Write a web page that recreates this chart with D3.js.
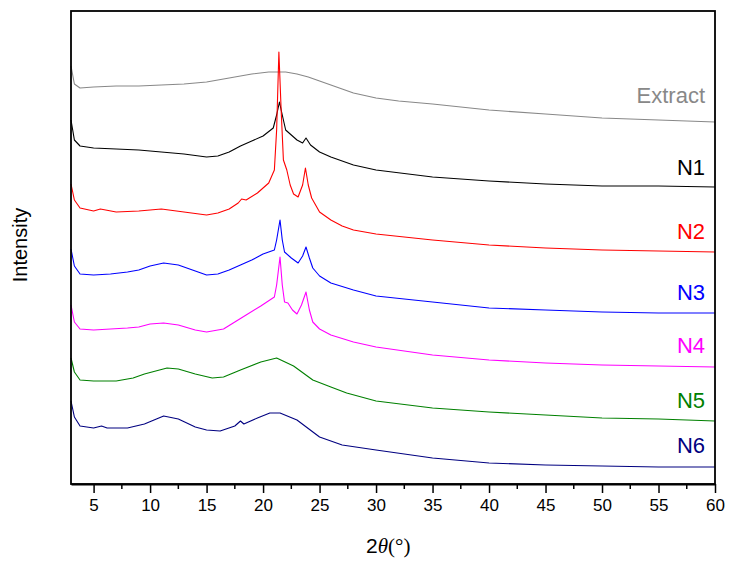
<!DOCTYPE html>
<html>
<head>
<meta charset="utf-8">
<script src="https://cdn.jsdelivr.net/npm/d3@7"></script>
<style>
  body { margin: 0; background: #fff; }
  svg text { font-family: Arial, "Liberation Sans", sans-serif; }
</style>
</head>
<body>
<svg id="xrd" width="732" height="571"></svg>
<script>
// data (2theta, stacked intensity in arbitrary units) -----------------
var names = ["Extract", "N1", "N2", "N3", "N4", "N5", "N6"];
var colors = ["#888888", "#000000", "#ff0000", "#0000ff", "#ff00ff", "#008000", "#000080"];
var labelY = [381, 309, 245, 184, 131, 76, 31]; // label heights, same units as intensity

var theta_extract = [3.0, 3.3, 3.8, 5, 7, 9, 11, 13, 15, 17, 19, 20.5, 22, 23, 24, 25, 26, 27, 28, 30, 32, 35, 40, 45, 50, 55, 60];
var int_extract = [418, 400, 396, 397, 398, 398, 399, 400, 402, 406, 410, 412, 412, 410, 407, 403, 399, 395, 391, 386, 383, 380, 374, 370, 366, 364, 362];

var theta_n1 = [3.0, 3.3, 3.8, 5, 7, 9, 11, 13, 15, 16, 17, 18, 19, 20, 20.9, 21.2, 21.45, 21.7, 22.0, 22.5, 23.0, 23.5, 23.8, 24.2, 25, 26, 28, 30, 35, 40, 45, 50, 55, 60];
var int_n1 = [364, 344, 338, 336, 335, 334, 332, 330, 327, 328, 332, 338, 343, 348, 356, 369, 382, 369, 354, 349, 344, 341, 346, 339, 332, 327, 319, 314, 307, 303, 300, 298, 298, 297];

var theta_n2 = [3.0, 3.3, 3.8, 5, 5.6, 7, 9, 11, 13, 15, 16, 17, 17.8, 18.1, 18.5, 19.5, 20.5, 21.0, 21.2, 21.4, 21.6, 21.8, 22.1, 22.4, 22.7, 23.1, 23.5, 23.75, 24.0, 24.3, 25, 26, 27, 28, 30, 35, 40, 45, 50, 55, 60];
var int_n2 = [300, 284, 276, 273, 275, 272, 273, 275, 272, 269, 271, 275, 281, 285, 284, 291, 301, 314, 354, 432, 374, 324, 314, 299, 290, 287, 299, 316, 299, 286, 272, 264, 258, 254, 250, 244, 239, 236, 234, 233, 232];

var theta_n3 = [3.0, 3.3, 3.8, 5, 6.5, 8, 9, 10, 11.2, 12.5, 14, 15, 16, 17, 18, 19, 20, 21.0, 21.2, 21.5, 21.7, 21.9, 22.5, 23.1, 23.5, 23.8, 24.1, 24.4, 25, 26, 28, 30, 35, 40, 45, 50, 55, 60];
var int_n3 = [235, 218, 210, 209, 210, 212, 214, 218, 221, 219, 213, 209, 210, 214, 219, 224, 230, 234, 244, 264, 244, 232, 226, 221, 228, 237, 226, 216, 208, 201, 194, 188, 182, 176, 174, 172, 171, 171];

var theta_n4 = [3.0, 3.3, 3.8, 5, 6.5, 8, 9, 10, 11.2, 12.5, 14, 15, 16.5, 17.5, 18.5, 19.8, 21.0, 21.2, 21.5, 21.7, 21.9, 22.2, 22.6, 23.0, 23.4, 23.8, 24.1, 24.4, 25, 26, 28, 30, 35, 40, 45, 50, 55, 60];
var int_n4 = [179, 162, 155, 154, 155, 156, 157, 160, 161, 159, 154, 152, 155, 162, 169, 178, 187, 199, 227, 199, 182, 181, 174, 170, 179, 192, 174, 162, 155, 149, 142, 137, 129, 124, 121, 119, 118, 117];

var theta_n5 = [3.0, 3.3, 3.8, 5, 7, 8.5, 9.5, 11.5, 12.5, 14, 15.5, 16.5, 18, 19.8, 21.2, 22.7, 24.4, 26, 27.4, 30, 35, 40, 45, 50, 55, 60];
var int_n5 = [126, 112, 104, 103, 103, 106, 110, 116, 115, 110, 106, 107, 114, 122, 126, 118, 104, 97, 91, 83, 76, 72, 69, 66, 65, 63];

var theta_n6 = [3.0, 3.3, 3.8, 5, 5.7, 6.2, 8, 9.5, 11.2, 12.5, 14, 15, 16.2, 17.5, 18.0, 18.3, 19.5, 20.6, 21.5, 23, 25, 27, 30, 35, 40, 45, 50, 55, 60];
var int_n6 = [83, 67, 58, 56, 58, 56, 56, 60, 68, 65, 57, 54, 53, 58, 63, 60, 66, 71, 71, 64, 47, 39, 34, 26, 21, 19, 18, 17, 17];

var thetas = [theta_extract, theta_n1, theta_n2, theta_n3, theta_n4, theta_n5, theta_n6];
var intensities = [int_extract, int_n1, int_n2, int_n3, int_n4, int_n5, int_n6];

var xTicks = [5, 10, 15, 20, 25, 30, 35, 40, 45, 50, 55, 60];
var xMinor = [7.5, 12.5, 17.5, 22.5, 27.5, 32.5, 37.5, 42.5, 47.5, 52.5, 57.5];

// graph ---------------------------------------------------------------
var svg = d3.select("#xrd");
const padding = { top: 11, right: 17, bottom: 87, left: 71 };
const width = 732, height = 571;

var x = d3.scaleLinear()
	.domain([3, 60])
	.range([padding.left, width - padding.right]);

var y = d3.scaleLinear()
	.domain([0, 473])
	.range([height - padding.bottom, padding.top]);

var line = d3.line()
	.x(d => x(d[0]))
	.y(d => y(d[1]));

// curves
var g = svg.append("g");
names.forEach(function (name, i) {
	var pts = thetas[i].map((t, j) => [t, intensities[i][j]]);
	g.append("path")
		.datum(pts)
		.attr("fill", "none")
		.attr("stroke", colors[i])
		.attr("stroke-width", 1.1)
		.attr("stroke-linejoin", "round")
		.attr("d", line);

	g.append("text")
		.attr("x", x(60) - 10)
		.attr("y", y(labelY[i]))
		.attr("text-anchor", "end")
		.attr("font-size", "22px")
		.attr("fill", colors[i])
		.text(name);
});

// frame
svg.append("rect")
	.attr("x", x(3))
	.attr("y", y(473))
	.attr("width", x(60) - x(3))
	.attr("height", y(0) - y(473))
	.attr("fill", "none")
	.attr("stroke", "#000")
	.attr("stroke-width", 1.8);

// x axis
var xAxis = svg.append("g")
	.attr("transform", `translate(0,${y(0)})`)
	.call(d3.axisBottom(x).tickValues(xTicks).tickSize(9).tickSizeOuter(0).tickPadding(6));
xAxis.select(".domain").attr("stroke-width", 1.8);
xAxis.selectAll(".tick line").attr("stroke-width", 1.5);
xAxis.selectAll("text")
	.attr("font-size", "17px")
	.attr("font-family", "Arial, 'Liberation Sans', sans-serif");

svg.append("g")
	.attr("transform", `translate(0,${y(0)})`)
	.selectAll("line")
	.data(xMinor)
	.enter()
	.append("line")
	.attr("x1", d => x(d))
	.attr("x2", d => x(d))
	.attr("y1", 0)
	.attr("y2", 5)
	.attr("stroke", "#000")
	.attr("stroke-width", 1.5);

// axis titles
var xt = svg.append("text")
	.attr("x", 366)
	.attr("y", 553)
	.attr("font-size", "21px");
xt.append("tspan").text("2");
xt.append("tspan")
	.attr("font-family", "'Liberation Serif', 'DejaVu Serif', serif")
	.attr("font-style", "italic")
	.text("θ");
xt.append("tspan")
	.attr("font-family", "'Liberation Serif', 'DejaVu Serif', serif")
	.text("(°)");

svg.append("text")
	.attr("transform", "translate(27,245) rotate(-90)")
	.attr("text-anchor", "middle")
	.attr("font-size", "20px")
	.text("Intensity");
</script>
</body>
</html>
